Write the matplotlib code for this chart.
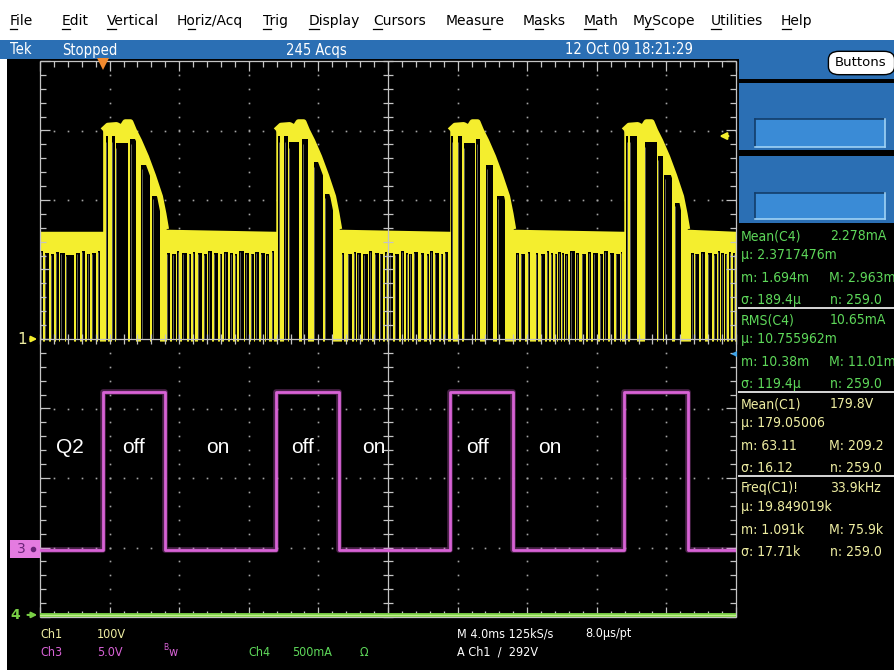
import numpy as np
import matplotlib
matplotlib.use('Agg')
import matplotlib.pyplot as plt
from matplotlib import font_manager
from matplotlib.patches import Rectangle, FancyBboxPatch
from matplotlib.collections import LineCollection

W, H = 895, 670

# scope settings
ms_per_div = 4.0
ch1_v_per_div = 100.0
ch3_v_per_div = 5.0
ch4_ma_per_div = 500.0
ch1_offset = 0.0      # divisions
ch3_offset = -3.02
ch4_offset = -3.97
trig_time = 3.6       # ms
trig_level = 292.0    # V
ref_marker = -0.21    # divisions, blue marker on right edge

# Ch1 (yellow): clamp level between bursts and the burst envelope
ch1_base = 155.0
ch1_burst_start = [3.6, 13.55, 23.55, 33.55]
burst_dt = [0.0, 0.0, 0.3, 0.8, 1.1, 1.3, 1.6, 1.8, 2.1, 2.5, 2.9, 3.3, 3.5, 3.65]
burst_v = [155, 300, 307, 308, 304, 312, 312, 300, 285, 262, 235, 205, 180, 158]

# dropouts of ch1 down to 0 V: centre (ms), width (ms), top (V)
gap_t = [0.12, 0.4, 0.72, 1.0, 1.3, 1.72, 2.2, 2.5, 2.8, 3.1, 3.38,
         3.83, 4.23, 4.7, 5.35, 6.07, 6.68,
         7.38, 7.72, 7.95, 8.3, 8.62, 8.85, 9.2, 9.5, 9.78, 10.12, 10.38, 10.7, 11.02, 11.25, 11.6, 11.92,
         12.2, 12.48, 12.8, 13.08, 13.38,
         13.75, 14.15, 14.6, 15.25, 16.0, 16.6,
         17.42, 17.8, 18.1, 18.35, 18.7, 19.0, 19.35, 19.62, 19.9, 20.18, 20.5, 20.85, 21.1, 21.3, 21.62,
         21.98, 22.3, 22.5, 22.82, 23.1, 23.35,
         23.7, 24.12, 24.67, 25.18, 25.85, 26.51,
         27.45, 27.75, 28.1, 28.56, 28.9, 29.2, 29.42, 29.65, 29.85, 30.05, 30.28, 30.6, 30.9, 31.25, 31.6,
         31.92, 32.25, 32.55, 32.85, 33.2, 33.42,
         33.75, 34.1, 35.1, 35.65, 36.11, 36.65,
         37.5, 37.75, 38.1, 38.5, 38.8, 39.0, 39.22, 39.45, 39.68, 39.9]
gap_w = [.15, .25, .22, .18, .25, .45, .22, .22, .18, .22, .15,
         .12, .18, .69, .32, .5, .45,
         .16, .22, .11, .25, .16, .13, .25, .16, .22, .25, .11, .22, .16, .13, .29, .22,
         .16, .22, .25, .13, .15,
         .12, .2, .62, .34, .5, .45,
         .16, .25, .13, .22, .25, .13, .22, .16, .13, .22, .25, .16, .11, .13, .25,
         .22, .16, .13, .25, .16, .15,
         .12, .24, .66, .2, .4, .45,
         .13, .22, .11, .16, .22, .16, .13, .11, .13, .11, .16, .25, .16, .25, .16,
         .25, .16, .22, .22, .22, .11,
         .12, .42, .7, .32, .44, .34,
         .13, .22, .18, .22, .16, .11, .13, .11, .11, .11]
gap_top = [130, 128, 126, 129, 128, 125, 128, 130, 127, 128, 130,
           296, 296, 286, 292, 255, 210,
           128, 126, 130, 128, 127, 129, 128, 126, 130, 128, 127, 129, 128, 126, 130, 128,
           127, 129, 128, 126, 130,
           296, 296, 287, 292, 258, 212,
           128, 127, 129, 128, 126, 130, 128, 127, 129, 128, 126, 130, 128, 127, 129,
           128, 126, 130, 128, 127, 129,
           296, 296, 286, 292, 255, 210,
           128, 127, 129, 128, 126, 130, 128, 127, 129, 128, 126, 130, 128, 127, 129,
           128, 126, 130, 128, 127, 129,
           296, 296, 288, 268, 240, 200,
           128, 127, 129, 128, 126, 130, 128, 127, 129, 128]

# Ch3 (magenta) gate drive: edge times (ms), levels (V)
ch3_edges = [3.6, 7.2, 13.55, 17.2, 23.55, 27.2, 33.55, 37.25]
ch3_low = -0.1
ch3_high = 11.3

# Ch4 (green) current
ch4_level = 2.3   # mA

# annotations written on the screen (time in ms, ch3 volts)
state_labels = ['Q2', 'off', 'on', 'off', 'on', 'off', 'on']
state_t = [1.72, 5.35, 10.23, 15.06, 19.2, 25.17, 29.31]
state_v = 7.3

menu_items = ['File', 'Edit', 'Vertical', 'Horiz/Acq', 'Trig', 'Display', 'Cursors',
              'Measure', 'Masks', 'Math', 'MyScope', 'Utilities', 'Help']
menu_x = [10, 62, 107, 177, 263, 309, 373, 446, 523, 584, 633, 711, 781]
menu_ul = [0, 0, 0, 1, 0, 0, 0, 4, 1, 0, 1, 0, 0]

meas_titles = ['Mean(C4)', 'RMS(C4)', 'Mean(C1)', 'Freq(C1)!']
meas_values = ['2.278mA', '10.65mA', '179.8V', '33.9kHz']
meas_mu = ['µ: 2.3717476m', 'µ: 10.755962m', 'µ: 179.05006', 'µ: 19.849019k']
meas_min = ['m: 1.694m', 'm: 10.38m', 'm: 63.11', 'm: 1.091k']
meas_max = ['M: 2.963m', 'M: 11.01m', 'M: 209.2', 'M: 75.9k']
meas_sd = ['σ: 189.4µ', 'σ: 119.4µ', 'σ: 16.12', 'σ: 17.71k']
meas_n = ['n: 259.0', 'n: 259.0', 'n: 259.0', 'n: 259.0']

YEL = '#f4ee2e'
MAG = '#d862d6'
GRN = '#79cf45'
TXT_G = '#5ed85a'
TXT_Y = '#efeea2'
BLUE = '#2b6fb4'

# fonts
names = {f.name for f in font_manager.fontManager.ttflist}
cond = [f for f in font_manager.fontManager.ttflist
        if f.name == 'DejaVu Sans' and str(f.stretch) in ('condensed', 'semi-condensed')]
if cond:
    NF = dict(family='DejaVu Sans', stretch='condensed')
    NK = 1.0
elif 'Liberation Sans Narrow' in names:
    NF = dict(family='Liberation Sans Narrow')
    NK = 1.18
else:
    NF = dict(family='DejaVu Sans')
    NK = 0.92

fig = plt.figure(figsize=(8.95, 6.7), dpi=100)
fig.patch.set_facecolor('white')


def frect(x0, y0, x1, y1, color, z=-5, **kw):
    r = Rectangle((x0 / W, 1 - y1 / H), (x1 - x0) / W, (y1 - y0) / H,
                  transform=fig.transFigure, facecolor=color, zorder=z, **kw)
    if 'edgecolor' not in kw:
        r.set_edgecolor('none')
    fig.add_artist(r)
    return r


def ftext(x, y, s, color='white', size=10, ha='left', va='center', **kw):
    return fig.text(x / W, 1 - y / H, s, color=color, fontsize=size, ha=ha, va=va, **kw)


def fline(xs, ys, color, lw=1, z=5):
    fig.add_artist(plt.Line2D([x / W for x in xs], [1 - y / H for y in ys],
                              transform=fig.transFigure, color=color, lw=lw, zorder=z))


# backgrounds
frect(7, 40, W, H, 'black')
frect(0, 40, W, 59, BLUE)
frect(739, 40, W, 223, BLUE)
frect(739, 79, W, 83, 'black')
frect(739, 150, W, 156, 'black')
for y0, y1 in [(119, 147), (193, 219)]:
    frect(755, y0, 885, y1, '#3a8bd6', z=-4)
    fline([755, 885], [y0, y0], '#123d6a', 1.2, -3)
    fline([755, 755], [y0, y1], '#123d6a', 1.2, -3)
    fline([755, 885], [y1, y1], '#9fd2f5', 1.2, -3)
    fline([885, 885], [y0, y1], '#9fd2f5', 1.2, -3)
pill = FancyBboxPatch((832 / W, 1 - 72 / H), 59 / W, 18 / H,
                      boxstyle='round,pad=0.004,rounding_size=0.012',
                      transform=fig.transFigure, facecolor='white', edgecolor='black', lw=1, zorder=2)
fig.add_artist(pill)
ftext(861, 63, 'Buttons', 'black', 9.5, ha='center', family='DejaVu Sans')

# menu bar
renderer = fig.canvas.get_renderer()
for name, x, k in zip(menu_items, menu_x, menu_ul):
    ftext(x, 21, name, 'black', 10, family='DejaVu Sans')
    w0 = 0
    if k:
        t0 = ftext(x, 21, name[:k], 'black', 10, family='DejaVu Sans')
        w0 = t0.get_window_extent(renderer).width
        t0.remove()
    t1 = ftext(x, 21, name[:k + 1], 'black', 10, family='DejaVu Sans')
    w1 = t1.get_window_extent(renderer).width
    t1.remove()
    fline([x + w0 + 0.5, x + w1 - 0.5], [28.5, 28.5], 'black', 0.9)

# header texts
ftext(10, 50, 'Tek', 'white', 10.5 * NK, **NF)
ftext(62, 50, 'Stopped', 'white', 10.5 * NK, **NF)
ftext(286, 50, '245 Acqs', 'white', 10.5 * NK, **NF)
ftext(565, 50, '12 Oct 09 18:21:29', 'white', 10.5 * NK, **NF)

# graticule axes
ax = fig.add_axes([40 / W, 1 - 617 / H, 696 / W, 556 / H])
ax.set_xlim(0, 10)
ax.set_ylim(-4, 4)
ax.axis('off')

GRID = '#a3a3a3'
for gx in range(1, 10):
    if gx == 5:
        continue
    ys = np.arange(-4, 4.001, 0.2)
    ax.plot([gx] * len(ys), ys, ls='none', marker='s', ms=1.2, mew=0, color=GRID, zorder=1)
for gy in range(-3, 4):
    if gy == 0:
        continue
    xs = np.arange(0, 10.001, 0.2)
    ax.plot(xs, [gy] * len(xs), ls='none', marker='s', ms=1.2, mew=0, color=GRID, zorder=1)

FRAME = '#c4c4c4'
segs = []
for v in np.arange(0, 10.001, 0.2):
    segs.append([(v, -0.07), (v, 0.07)])
    L = 0.14 if abs(v - round(v)) < 1e-6 else 0.08
    segs.append([(v, 4), (v, 4 - L)])
    segs.append([(v, -4), (v, -4 + L)])
for v in np.arange(-4, 4.001, 0.2):
    segs.append([(4.93, v), (5.07, v)])
    L = 0.14 if abs(v - round(v)) < 1e-6 else 0.08
    segs.append([(0, v), (L, v)])
    segs.append([(10, v), (10 - L, v)])
segs += [[(5, -4), (5, 4)], [(0, 0), (10, 0)],
         [(0, -4), (0, 4)], [(10, -4), (10, 4)], [(0, 4), (10, 4)], [(0, -4), (10, -4)]]
ax.add_collection(LineCollection(segs, colors=FRAME, linewidths=0.9, zorder=6, clip_on=False))

# state labels (under the graticule lines)
for s, t in zip(state_labels, state_t):
    ax.text(t / ms_per_div, state_v / ch3_v_per_div + ch3_offset, s, color='white',
            fontsize=15, ha='center', va='center', family='Liberation Sans', zorder=0.5)

# ch1 envelope
env_t = [0.0]
env_v = [ch1_base]
for r in ch1_burst_start:
    env_t += [r + d for d in burst_dt]
    env_v += burst_v
env_t.append(40.0)
env_v.append(ch1_base)
ex = np.array(env_t) / ms_per_div
ey = np.array(env_v) / ch1_v_per_div + ch1_offset
ax.fill_between(ex, ch1_offset - 0.03, ey, color=YEL, lw=0, zorder=2)

gx = np.array(gap_t) / ms_per_div
gw = np.array(gap_w) / ms_per_div
gh = np.array(gap_top) / ch1_v_per_div
ax.bar(gx, gh, width=gw, bottom=ch1_offset - 0.04, color='black', lw=0, zorder=3)
ax.vlines(gx - gw / 2 + 0.006, ch1_offset, ch1_offset + gh * 0.96, color='#d6d6c6',
          lw=0.5, alpha=0.6, zorder=3.5)

for r in ch1_burst_start:
    bx = [(r + d) / ms_per_div for d in burst_dt[1:]]
    by = [v / ch1_v_per_div + ch1_offset for v in burst_v[1:]]
    ax.plot(bx, by, color=YEL, lw=4.2, zorder=4, solid_capstyle='butt', solid_joinstyle='round')

# ch3
c3x = [0.0]
c3y = [ch3_low]
lev = ch3_low
for e in ch3_edges:
    c3x.append(e)
    c3y.append(lev)
    lev = ch3_high if lev == ch3_low else ch3_low
    c3x.append(e)
    c3y.append(lev)
c3x.append(40.0)
c3y.append(lev)
c3x = np.array(c3x) / ms_per_div
c3y = np.array(c3y) / ch3_v_per_div + ch3_offset
ax.plot(c3x, c3y, color=MAG, lw=4, alpha=0.35, zorder=7)
ax.plot(c3x, c3y, color=MAG, lw=2, zorder=7.5)

# ch4
c4y = ch4_level / ch4_ma_per_div + ch4_offset
ax.plot([0, 10], [c4y, c4y], color=GRN, lw=3.5, zorder=7)
ax.plot([0, 10], [c4y, c4y], color='#bfeb88', lw=1, zorder=7.5)

# channel markers on the left
ax.text(-0.26, ch1_offset, '1', color=TXT_Y, fontsize=11, ha='center', va='center',
        family='DejaVu Sans', clip_on=False)
ax.annotate('', xy=(0, ch1_offset), xytext=(-0.18, ch1_offset),
            arrowprops=dict(arrowstyle='-|>', color=YEL, lw=1.5, mutation_scale=8), annotation_clip=False)
ax.add_patch(Rectangle((-0.43, ch3_offset - 0.13), 0.43, 0.26, facecolor='#e47be0',
                       edgecolor='none', clip_on=False, zorder=8))
ax.text(-0.27, ch3_offset, '3', color='#6a2378', fontsize=10, ha='center', va='center', clip_on=False, zorder=9)
ax.plot([-0.1], [ch3_offset], marker='o', ms=3, color='#6a2378', clip_on=False, zorder=9)
ax.text(-0.35, ch4_offset, '4', color=GRN, fontsize=10, ha='center', va='center',
        family='DejaVu Sans', clip_on=False, fontweight='bold')
ax.annotate('', xy=(0, ch4_offset), xytext=(-0.22, ch4_offset),
            arrowprops=dict(arrowstyle='-|>', color=GRN, lw=1.5, mutation_scale=8), annotation_clip=False)

# trigger position / level, reference marker
ax.plot([trig_time / ms_per_div], [3.96], marker='v', ms=8, color='#f28a2e', mew=0, clip_on=False, zorder=9)
tl = trig_level / ch1_v_per_div + ch1_offset
ax.annotate('', xy=(9.72, tl), xytext=(9.93, tl),
            arrowprops=dict(arrowstyle='-|>', color=YEL, lw=1.6, mutation_scale=10), annotation_clip=False)
ax.plot([9.97], [ref_marker], marker='<', ms=5, color='#3fa3e8', mew=0, clip_on=False, zorder=9)

# measurement panel
for i in range(4):
    y0 = 236 + 84 * i
    col = TXT_G if i < 2 else TXT_Y
    if i > 0:
        fline([739, W], [y0 - 12, y0 - 12], '#d8d8d8', 1.4)
    ftext(741, y0, meas_titles[i], col, 10 * NK, **NF)
    ftext(830, y0, meas_values[i], col, 10 * NK, **NF)
    ftext(741, y0 + 19, meas_mu[i], col, 10 * NK, **NF)
    ftext(741, y0 + 42, meas_min[i], col, 10 * NK, **NF)
    ftext(829, y0 + 42, meas_max[i], col, 10 * NK, **NF)
    ftext(741, y0 + 64, meas_sd[i], col, 10 * NK, **NF)
    ftext(830, y0 + 64, meas_n[i], col, 10 * NK, **NF)

# bottom status lines
ftext(40, 634, 'Ch1', TXT_Y, 9 * NK, **NF)
ftext(97, 634, '100V', TXT_Y, 9 * NK, **NF)
ftext(40, 652, 'Ch3', MAG, 9 * NK, **NF)
ftext(97, 652, '5.0V', MAG, 9 * NK, **NF)
ftext(163, 648, 'B', MAG, 6 * NK, **NF)
ftext(169, 652, 'w', MAG, 9 * NK, **NF)
ftext(248, 652, 'Ch4', TXT_G, 9 * NK, **NF)
ftext(292, 652, '500mA', TXT_G, 9 * NK, **NF)
ftext(360, 652, 'Ω', TXT_G, 9 * NK, **NF)
ftext(457, 634, 'M 4.0ms 125kS/s', 'white', 9 * NK, **NF)
ftext(585, 634, '8.0µs/pt', 'white', 9 * NK, **NF)
ftext(457, 652, 'A Ch1  /  292V', 'white', 9 * NK, **NF)

fig.savefig('out.png', dpi=100, facecolor=fig.get_facecolor())
